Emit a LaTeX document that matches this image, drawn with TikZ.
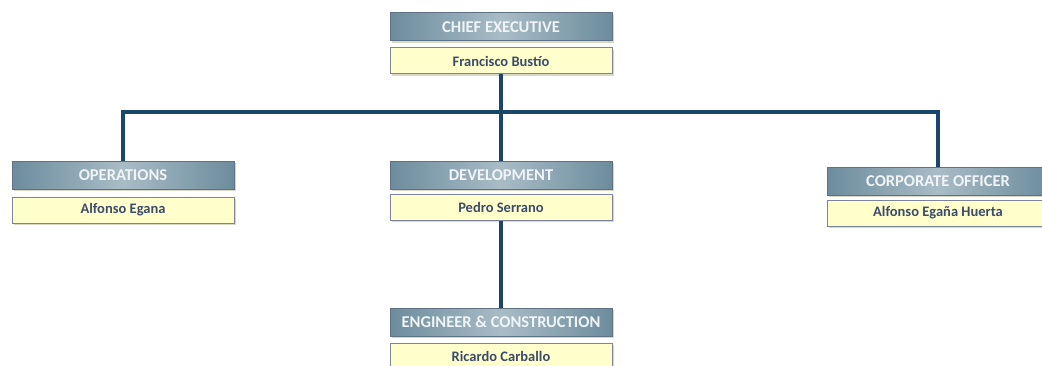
\documentclass[tikz,border=0pt]{standalone}
\usepackage{fontspec}
\setmainfont{Carlito}
\usetikzlibrary{positioning}
\usetikzlibrary{shadows}
\definecolor{hdredge}{HTML}{6C8C9D}
\definecolor{hdrmid}{HTML}{A9BCC6}
\definecolor{hdrline}{HTML}{5E7284}
\definecolor{hdrtext}{HTML}{F0F4F6}
\definecolor{namefill}{HTML}{FFFFCC}
\definecolor{nameline}{HTML}{7E8498}
\definecolor{nametext}{HTML}{3C4B6B}
\definecolor{linkcol}{HTML}{1A466B}
\definecolor{shade}{HTML}{D9D8C4}
\tikzset{
  title/.style={draw=hdrline, line width=1pt, minimum width=222pt, minimum height=28pt, inner sep=1pt,
    left color=hdredge, right color=hdredge, middle color=hdrmid,
    text=hdrtext, font=\fontsize{16.5}{18}\selectfont\bfseries,
    drop shadow={shadow xshift=2pt, shadow yshift=-2pt, fill=shade, opacity=1}},
  person/.style={draw=nameline, line width=1pt, fill=namefill, minimum width=222pt, minimum height=26pt, inner sep=1pt,
    text=nametext, font=\fontsize{14.5}{16}\selectfont\bfseries,
    drop shadow={shadow xshift=2pt, shadow yshift=-2pt, fill=shade, opacity=1}},
  link/.style={draw=linkcol, line width=3.6pt}
}

\begin{document}
\begin{tikzpicture}[x=1pt, y=1pt]
    \clip (0,0) rectangle (1042,365);
    \fill [white] (0,0) rectangle (1042,365);
    \coordinate (bus) at (501,253);

    \node (chief) at (501,338) [title] {CHIEF EXECUTIVE};
    \node (chiefname) [person, below=6pt of chief] {Francisco Bustío};
    \node (ops) at (123,190) [title] {OPERATIONS};
    \node (opsname) [person, below=7pt of ops] {Alfonso Egana};
    \node (dev) at (501,190) [title] {DEVELOPMENT};
    \node (devname) [person, below=4pt of dev] {Pedro Serrano};
    \node (corp) at (938,184) [title] {CORPORATE OFFICER};
    \node (corpname) [person, below=4pt of corp] {Alfonso Egaña Huerta};
    \node (eng) at (501,43) [title] {ENGINEER \& CONSTRUCTION};
    \node (engname) [person, below=6pt of eng] {Ricardo Carballo};

    \path [link] (chiefname.south) -- (bus);
    \path [link] (ops.north) |- (bus) -| (corp.north);
    \path [link] (bus) -- (dev.north);
    \path [link] (devname.south) -- (eng.north);
\end{tikzpicture}
\end{document}
